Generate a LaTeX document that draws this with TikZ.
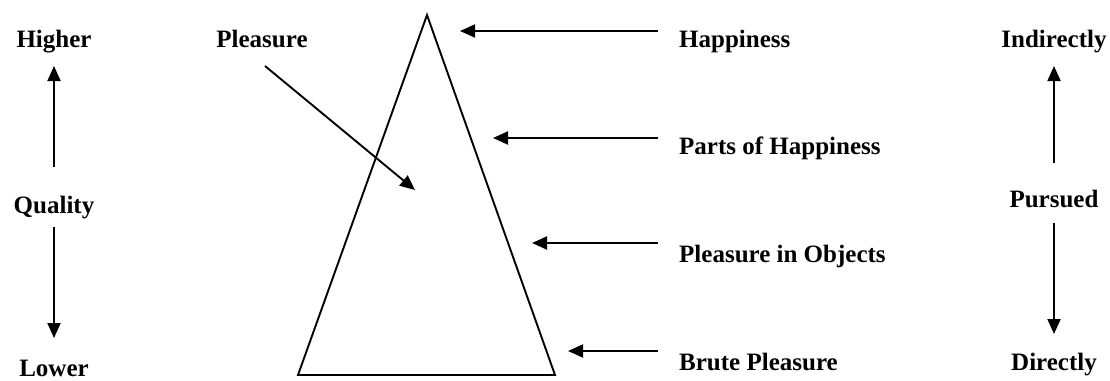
\documentclass[tikz,border=0pt]{standalone}
\usepackage{fontspec}
\setmainfont{Liberation Serif}
\usetikzlibrary{arrows.meta}
\begin{document}
\begin{tikzpicture}[x=1pt,y=-1pt,
  lbl/.style={font=\fontsize{25}{28}\selectfont\bfseries, inner sep=0pt},
  conn/.style={line width=1.9pt, -{Triangle[length=15pt,width=13pt]}},
  tri/.style={line width=1.9pt, line join=miter}]
\useasboundingbox (0,0) rectangle (1110,380);
% triangle
\coordinate (apex) at (427,15);
\coordinate (bl) at (298,375);
\coordinate (br) at (555,375);
\draw[tri] (apex) -- (bl) -- (br) -- cycle;
% left scale
\node[lbl, anchor=base] (higher) at (54,47) {Higher};
\node[lbl, anchor=base] (quality) at (54,213) {Quality};
\node[lbl, anchor=base] (lower) at (54,376) {Lower};
\coordinate (q1) at (54,167);
\coordinate (q2) at (54,227);
\coordinate (hi) at (54,66);
\coordinate (lo) at (54,338);
\draw[conn] (q1) -- (hi);
\draw[conn] (q2) -- (lo);
% pleasure
\node[lbl, anchor=base] (pleasure) at (262,47) {Pleasure};
\coordinate (p0) at (265,66);
\coordinate (pin) at (415,190);
\draw[conn] (p0) -- (pin);
% right labels
\node[lbl, anchor=base west] (happy) at (679,47) {Happiness};
\node[lbl, anchor=base west] (parts) at (679,154) {Parts of Happiness};
\node[lbl, anchor=base west] (objects) at (679,262) {Pleasure in Objects};
\node[lbl, anchor=base west] (brute) at (679,370) {Brute Pleasure};
\coordinate (h0) at (658,31);  \coordinate (h1) at (460,31);
\coordinate (a0) at (658,138); \coordinate (a1) at (493,138);
\coordinate (o0) at (658,243); \coordinate (o1) at (532,243);
\coordinate (b0) at (658,351); \coordinate (b1) at (568,351);
\draw[conn] (h0) -- (h1);
\draw[conn] (a0) -- (a1);
\draw[conn] (o0) -- (o1);
\draw[conn] (b0) -- (b1);
% right scale
\node[lbl, anchor=base] (indirect) at (1054,47) {Indirectly};
\node[lbl, anchor=base] (pursued) at (1054,207) {Pursued};
\node[lbl, anchor=base] (direct) at (1054,370) {Directly};
\coordinate (r1) at (1054,163);
\coordinate (r2) at (1054,223);
\coordinate (rt) at (1054,66);
\coordinate (rb) at (1054,334);
\draw[conn] (r1) -- (rt);
\draw[conn] (r2) -- (rb);
\end{tikzpicture}
\end{document}
